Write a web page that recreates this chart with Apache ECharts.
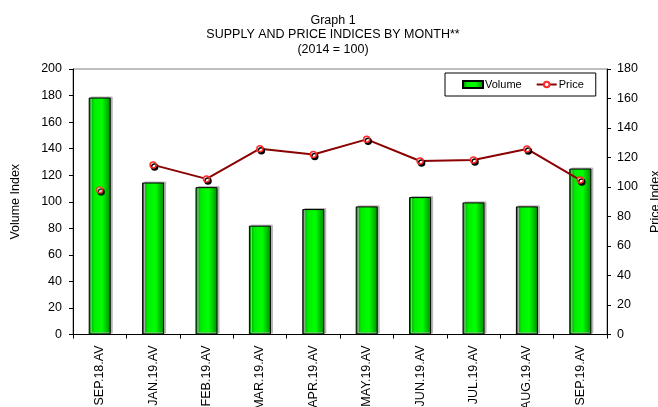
<!DOCTYPE html>
<html>
<head>
<meta charset="utf-8">
<script src="https://cdn.jsdelivr.net/npm/echarts@6/dist/echarts.min.js"></script>
<style>
  html, body { margin: 0; padding: 0; background: #fff; }
  #chart { width: 658px; height: 407px; }
</style>
</head>
<body>
<div id="chart"></div>
<script>
// Data
const months = ['SEP.18.AV', 'JAN.19.AV', 'FEB.19.AV', 'MAR.19.AV', 'APR.19.AV',
  'MAY.19.AV', 'JUN.19.AV', 'JUL.19.AV', 'AUG.19.AV', 'SEP.19.AV'];
const volumeIndex = [178.5, 114.5, 111, 82, 94.5, 96.5, 103.5, 99.5, 96.5, 125];
const priceIndex = [98, 115, 105.5, 126, 122, 132.3, 117.6, 118.3, 125.8, 104.7];
const volumeTicks = { min: 0, max: 200, interval: 20 };
const priceTicks = { min: 0, max: 180, interval: 20 };

const font = 'Liberation Sans, Arial, sans-serif';

// the first price point is not joined to the rest in the original
const priceLine = priceIndex.map((v, i) => (i === 0 ? '-' : v));
const priceFirst = priceIndex.map((v, i) => (i === 0 ? v : '-'));

const markerStyle = {
  color: '#fff',
  borderColor: '#ff2a2a',
  borderWidth: 1.5,
  shadowColor: '#000',
  shadowBlur: 0,
  shadowOffsetX: 1.5,
  shadowOffsetY: 2
};

const barGradient = new echarts.graphic.LinearGradient(0, 0, 1, 0, [
  { offset: 0, color: '#007a00' },
  { offset: 0.25, color: '#00ee00' },
  { offset: 0.6, color: '#00ff00' },
  { offset: 1, color: '#008a00' }
]);

const axisText = { fontSize: 12.5, color: '#000', fontFamily: font };

const chart = echarts.init(document.getElementById('chart'));
chart.setOption({
  animation: false,
  textStyle: { fontFamily: font, color: '#000' },
  title: {
    text: 'Graph 1\nSUPPLY AND PRICE INDICES BY MONTH**\n(2014 = 100)',
    left: 328,
    textAlign: 'center',
    top: 8,
    textStyle: { fontSize: 12.5, fontWeight: 'normal', lineHeight: 14.5, color: '#000', fontFamily: font }
  },
  legend: {
    data: [{ name: 'Volume', icon: 'rect' }, 'Price'],
    left: 445,
    top: 73,
    padding: [6, 12, 6, 17],
    itemGap: 14,
    itemWidth: 20,
    itemHeight: 7,
    borderColor: '#000',
    borderWidth: 1,
    backgroundColor: '#fff',
    textStyle: { fontSize: 11, color: '#000', fontFamily: font, padding: [0, 0, 0, -3] }
  },
  grid: {
    left: 73,
    right: 51,
    top: 69,
    bottom: 72.5,
    outerBoundsMode: 'none',
    show: true,
    borderColor: '#808080',
    borderWidth: 1
  },
  xAxis: {
    type: 'category',
    data: months,
    axisLine: { lineStyle: { color: '#000', width: 1 } },
    axisTick: { show: true, length: 4, lineStyle: { color: '#000' } },
    axisLabel: { ...axisText, rotate: 90, margin: 11 }
  },
  yAxis: [
    {
      type: 'value',
      ...volumeTicks,
      name: 'Volume Index',
      nameLocation: 'middle',
      nameGap: 51,
      nameTextStyle: axisText,
      axisLine: { show: true, lineStyle: { color: '#000' } },
      axisTick: { show: true, length: 4, lineStyle: { color: '#000' } },
      axisLabel: { ...axisText, margin: 11 },
      splitLine: { show: false }
    },
    {
      type: 'value',
      ...priceTicks,
      position: 'right',
      name: 'Price Index',
      nameLocation: 'middle',
      nameGap: 38,
      nameTextStyle: axisText,
      axisLine: { show: true, lineStyle: { color: '#000' } },
      axisTick: { show: true, length: 4, lineStyle: { color: '#000' } },
      axisLabel: { ...axisText, margin: 10 },
      splitLine: { show: false }
    }
  ],
  series: [
    {
      name: 'Volume',
      type: 'bar',
      yAxisIndex: 0,
      data: volumeIndex,
      barWidth: 22,
      itemStyle: {
        color: barGradient,
        borderColor: '#000',
        borderWidth: 1,
        shadowColor: '#b4b4b4',
        shadowBlur: 0,
        shadowOffsetX: 2,
        shadowOffsetY: -1
      }
    },
    {
      name: 'Price',
      type: 'line',
      yAxisIndex: 1,
      data: priceLine,
      symbol: 'circle',
      symbolSize: 6,
      showAllSymbol: true,
      lineStyle: { color: '#8b0000', width: 2 },
      itemStyle: markerStyle,
      z: 5
    },
    {
      name: 'Price first',
      type: 'scatter',
      yAxisIndex: 1,
      data: priceFirst,
      symbol: 'circle',
      symbolSize: 6,
      itemStyle: markerStyle,
      z: 5
    }
  ]
});
</script>
</body>
</html>
